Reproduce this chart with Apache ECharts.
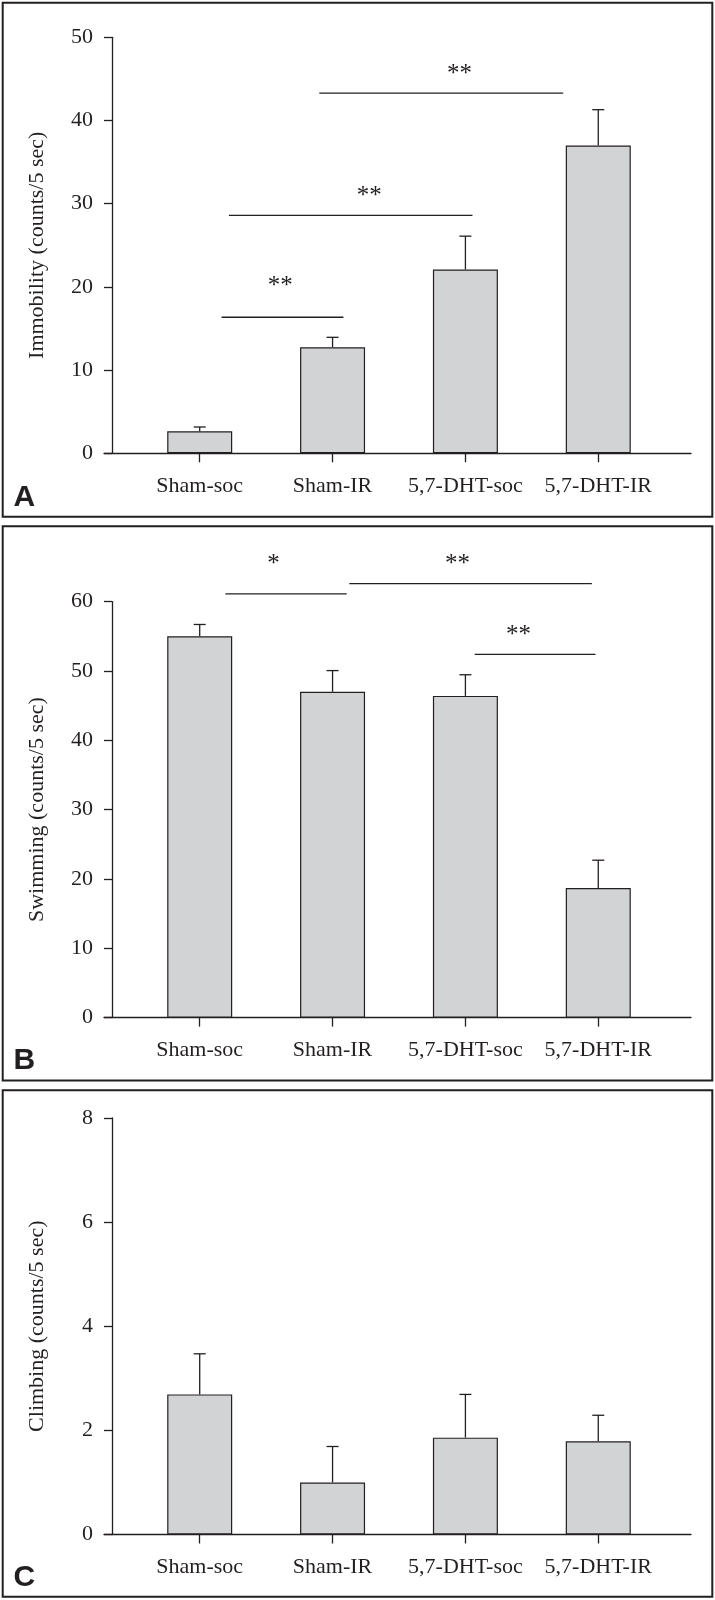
<!DOCTYPE html>
<html>
<head>
<meta charset="utf-8">
<script src="https://cdn.jsdelivr.net/npm/echarts@6/dist/echarts.min.js"></script>
<style>
  html, body { margin: 0; padding: 0; background: #ffffff; }
  #chart { width: 715px; height: 1600px; }
</style>
</head>
<body>
<div id="chart"></div>
<script>
// ---------- data ----------
const categories = ['Sham-soc', 'Sham-IR', '5,7-DHT-soc', '5,7-DHT-IR'];
const positions = [1, 2, 3, 4];

const immobilityMean = [2.64, 12.74, 22.1, 37.0];
const immobilitySE   = [0.52, 1.2, 4.0, 4.3];
const swimmingMean   = [55.0, 47.0, 46.4, 18.7];
const swimmingSE     = [1.7, 3.05, 3.05, 4.0];
const climbingMean   = [2.69, 1.00, 1.86, 1.79];
const climbingSE     = [0.78, 0.69, 0.83, 0.50];

const immobilityTicks = { max: 50, step: 10 };
const swimmingTicks   = { max: 60, step: 10 };
const climbingTicks   = { max: 8,  step: 2 };

// significance brackets: [x start, x end, line value, label x, label value, label]
const immobilitySig = [
  [1.165, 2.082, 16.35, 1.607, 20.6, '**'],
  [1.220, 3.053, 28.6, 2.277, 31.5, '**'],
  [1.900, 3.736, 43.3, 2.956, 46.15, '**']
];
const swimmingSig = [
  [1.193, 2.106, 61.1, 1.556, 66.06, '*'],
  [2.126, 3.952, 62.6, 2.940, 66.06, '**'],
  [3.070, 3.979, 52.4, 3.400, 55.78, '**']
];
const climbingSig = [];

// ---------- styling ----------
const INK = '#231f20';
const BAR = '#d1d3d4';
const SERIF = '"Liberation Serif", "DejaVu Serif", serif';
const FS = 22;

const panels = [
  { name: 'Immobility (counts/5 sec)', mean: immobilityMean, se: immobilitySE, ticks: immobilityTicks, sig: immobilitySig,
    grid: { top: 37.3, height: 416 }, frame: [2.7, 2.7, 709.6, 514], letter: 'A', letterY: 507 },
  { name: 'Swimming (counts/5 sec)', mean: swimmingMean, se: swimmingSE, ticks: swimmingTicks, sig: swimmingSig,
    grid: { top: 601.6, height: 416 }, frame: [2.7, 526.2, 709.6, 554.3], letter: 'B', letterY: 1070 },
  { name: 'Climbing (counts/5 sec)', mean: climbingMean, se: climbingSE, ticks: climbingTicks, sig: climbingSig,
    grid: { top: 1117.9, height: 416.6 }, frame: [2.7, 1090.3, 709.6, 506.4], letter: 'C', letterY: 1587 }
];

const grids = [], xAxes = [], yAxes = [], series = [], graphics = [];

panels.forEach((p, i) => {
  grids.push({ left: 104, right: 24, top: p.grid.top, height: p.grid.height, containLabel: false });
  xAxes.push({
    type: 'value', gridIndex: i, min: 0.2796, max: 4.698,
    axisLine: { show: true, onZero: false, lineStyle: { color: INK, width: 1.3 } },
    axisTick: { show: true, customValues: positions, length: 9, lineStyle: { color: INK, width: 1.3 } },
    axisLabel: { show: true, customValues: positions, margin: 22,
      formatter: v => categories[positions.indexOf(v)] || '',
      fontFamily: SERIF, fontSize: FS, color: INK },
    splitLine: { show: false }
  });
  yAxes.push({
    type: 'value', gridIndex: i, min: 0, max: p.ticks.max, interval: p.ticks.step,
    position: 'left', offset: -8,
    axisLine: { show: true, onZero: false, lineStyle: { color: INK, width: 1.3 } },
    axisTick: { show: true, length: 8, lineStyle: { color: INK, width: 1.3 } },
    axisLabel: { margin: 19, fontFamily: SERIF, fontSize: FS, color: INK },
    splitLine: { show: false },
    name: p.name, nameLocation: 'middle', nameGap: 64,
    nameTextStyle: { fontFamily: SERIF, fontSize: FS, color: INK }
  });
  series.push({
    type: 'bar', xAxisIndex: i, yAxisIndex: i, barWidth: 65,
    data: positions.map((x, k) => [x, p.mean[k]]),
    itemStyle: { color: BAR, borderColor: INK, borderWidth: 1.2 },
    silent: true, z: 2
  });
  series.push({
    type: 'custom', xAxisIndex: i, yAxisIndex: i, z: 3, silent: true,
    data: positions.map((x, k) => [x, p.mean[k], p.mean[k] + p.se[k]]),
    renderItem: (params, api) => {
      const b = api.coord([api.value(0), api.value(1)]);
      const t = api.coord([api.value(0), api.value(2)]);
      const st = { stroke: INK, lineWidth: 1.3 };
      return { type: 'group', children: [
        { type: 'line', shape: { x1: b[0], y1: b[1], x2: t[0], y2: t[1] }, style: st },
        { type: 'line', shape: { x1: t[0] - 6, y1: t[1], x2: t[0] + 6, y2: t[1] }, style: st }
      ]};
    }
  });
  if (p.sig.length) {
    series.push({
      type: 'custom', xAxisIndex: i, yAxisIndex: i, z: 4, silent: true, clip: false,
      data: p.sig.map(s => s.slice(0, 5)),
      renderItem: (params, api) => {
        const a = api.coord([api.value(0), api.value(2)]);
        const c = api.coord([api.value(1), api.value(2)]);
        const s = api.coord([api.value(3), api.value(4)]);
        const lbl = p.sig[params.dataIndex][5];
        return { type: 'group', children: [
          { type: 'line', shape: { x1: a[0], y1: a[1], x2: c[0], y2: c[1] }, style: { stroke: INK, lineWidth: 1.3 } },
          { type: 'text', x: s[0], y: s[1] + 5,
            style: { text: lbl, fill: INK, fontFamily: SERIF, fontSize: 25, align: 'center', verticalAlign: 'middle' } }
        ]};
      }
    });
  }
  graphics.push({ type: 'rect', shape: { x: p.frame[0], y: p.frame[1], width: p.frame[2], height: p.frame[3] },
    style: { fill: 'none', stroke: INK, lineWidth: 2 }, silent: true });
  graphics.push({ type: 'text', x: 13.5, y: p.letterY + 6,
    style: { text: p.letter, fill: INK, font: 'bold 30px "Liberation Sans", Arial, sans-serif', align: 'left', verticalAlign: 'bottom' },
    silent: true });
});

const chart = echarts.init(document.getElementById('chart'), null, { renderer: 'canvas' });
chart.setOption({
  animation: false,
  backgroundColor: '#ffffff',
  grid: grids, xAxis: xAxes, yAxis: yAxes, series: series, graphic: graphics
});
</script>
</body>
</html>
